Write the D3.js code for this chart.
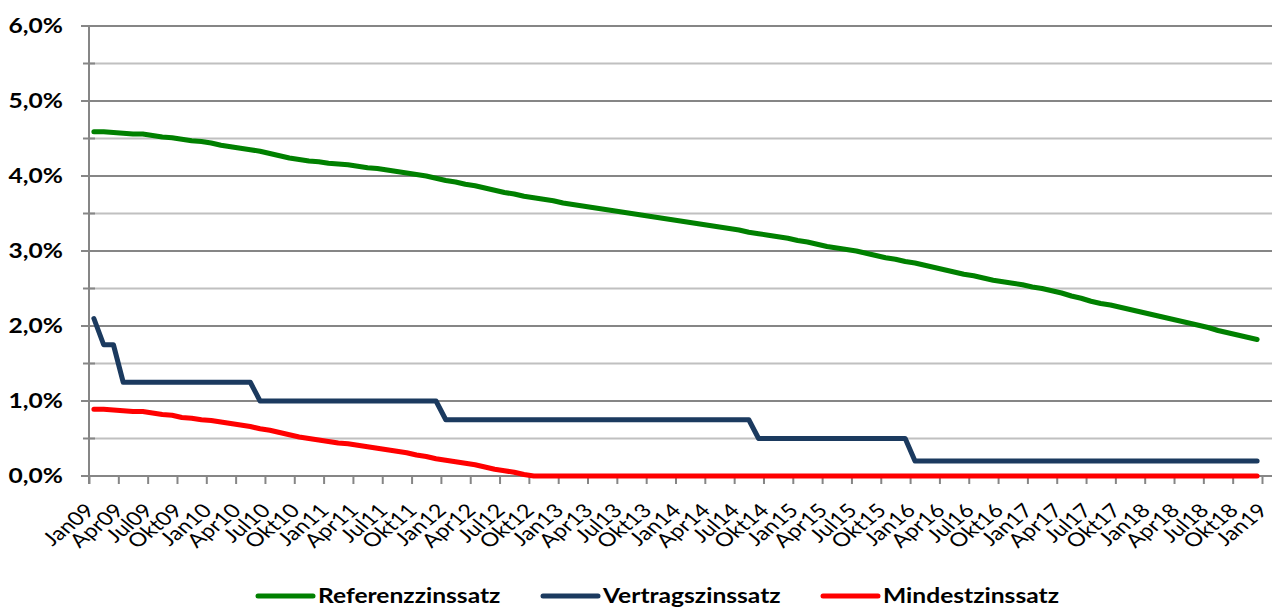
<!DOCTYPE html>
<html><head><meta charset="utf-8">
<script src="https://cdn.jsdelivr.net/npm/d3@7"></script>
<style>body{margin:0;background:#fff}svg{display:block}</style>
</head><body><svg id="c" width="1272" height="607"></svg>
<script>
const tickLabels = ["Jan09","Apr09","Jul09","Okt09","Jan10","Apr10","Jul10","Okt10","Jan11","Apr11","Jul11","Okt11",
  "Jan12","Apr12","Jul12","Okt12","Jan13","Apr13","Jul13","Okt13","Jan14","Apr14","Jul14","Okt14",
  "Jan15","Apr15","Jul15","Okt15","Jan16","Apr16","Jul16","Okt16","Jan17","Apr17","Jul17","Okt17",
  "Jan18","Apr18","Jul18","Okt18","Jan19"];
const monthNames = ["Jan","Feb","Mär","Apr","Mai","Jun","Jul","Aug","Sep","Okt","Nov","Dez"];
const years = ["09","10","11","12","13","14","15","16","17","18"];
const categories = years.flatMap(yy => monthNames.map(m => m + yy));

const referenz = [
  4.59,4.59,4.58,4.57,4.56,4.56,4.54,4.52,4.51,4.49,4.47,4.46,
  4.44,4.41,4.39,4.37,4.35,4.33,4.30,4.27,4.24,4.22,4.20,4.19,
  4.17,4.16,4.15,4.13,4.11,4.10,4.08,4.06,4.04,4.02,4.00,3.97,
  3.94,3.92,3.89,3.87,3.84,3.81,3.78,3.76,3.73,3.71,3.69,3.67,
  3.64,3.62,3.60,3.58,3.56,3.54,3.52,3.50,3.48,3.46,3.44,3.42,
  3.40,3.38,3.36,3.34,3.32,3.30,3.28,3.25,3.23,3.21,3.19,3.17,
  3.14,3.12,3.09,3.06,3.04,3.02,3.00,2.97,2.94,2.91,2.89,2.86,
  2.84,2.81,2.78,2.75,2.72,2.69,2.67,2.64,2.61,2.59,2.57,2.55,
  2.52,2.50,2.47,2.44,2.40,2.37,2.33,2.30,2.28,2.25,2.22,2.19,
  2.16,2.13,2.10,2.07,2.04,2.01,1.98,1.94,1.91,1.88,1.85,1.82];
const vertrag = [
  2.10,1.75,1.75,1.25,1.25,1.25,1.25,1.25,1.25,1.25,1.25,1.25,
  1.25,1.25,1.25,1.25,1.25,1.00,1.00,1.00,1.00,1.00,1.00,1.00,
  1.00,1.00,1.00,1.00,1.00,1.00,1.00,1.00,1.00,1.00,1.00,1.00,
  0.75,0.75,0.75,0.75,0.75,0.75,0.75,0.75,0.75,0.75,0.75,0.75,
  0.75,0.75,0.75,0.75,0.75,0.75,0.75,0.75,0.75,0.75,0.75,0.75,
  0.75,0.75,0.75,0.75,0.75,0.75,0.75,0.75,0.50,0.50,0.50,0.50,
  0.50,0.50,0.50,0.50,0.50,0.50,0.50,0.50,0.50,0.50,0.50,0.50,
  0.20,0.20,0.20,0.20,0.20,0.20,0.20,0.20,0.20,0.20,0.20,0.20,
  0.20,0.20,0.20,0.20,0.20,0.20,0.20,0.20,0.20,0.20,0.20,0.20,
  0.20,0.20,0.20,0.20,0.20,0.20,0.20,0.20,0.20,0.20,0.20,0.20];
const mindest = [
  0.89,0.89,0.88,0.87,0.86,0.86,0.84,0.82,0.81,0.78,0.77,0.75,
  0.74,0.72,0.70,0.68,0.66,0.63,0.61,0.58,0.55,0.52,0.50,0.48,
  0.46,0.44,0.43,0.41,0.39,0.37,0.35,0.33,0.31,0.28,0.26,0.23,
  0.21,0.19,0.17,0.15,0.12,0.09,0.07,0.05,0.02,0.00,0.00,0.00,
  0,0,0,0,0,0,0,0,0,0,0,0,
  0,0,0,0,0,0,0,0,0,0,0,0,
  0,0,0,0,0,0,0,0,0,0,0,0,
  0,0,0,0,0,0,0,0,0,0,0,0,
  0,0,0,0,0,0,0,0,0,0,0,0,
  0,0,0,0,0,0,0,0,0,0,0,0];
const yMajor = [0,1,2,3,4,5,6];
const yMinor = [0.5,1.5,2.5,3.5,4.5,5.5];
const seriesNames = ["Referenzzinssatz","Vertragszinssatz","Mindestzinssatz"];
const seriesColors = ["#008000","#1B3A5F","#FF0000"];

const svg = d3.select("#c");
const W = 1272;
const plotL = 89, plotR = 1262, plotT = 26, plotB = 476;
const SX = 1.23;
const font = "Lato, 'Open Sans', sans-serif";

const x = d3.scaleBand().domain(categories).range([plotL, plotR]).paddingInner(0).paddingOuter(0);
const xt = d3.scalePoint().domain(tickLabels).range([plotL, plotR]);
const y = d3.scaleLinear().domain([0, 6]).range([plotB, plotT]);
const px = (d, i) => x(categories[i]) + x.bandwidth() / 2;

// minor gridlines
svg.append("g").selectAll("line").data(yMinor).join("line")
  .attr("x1", plotL).attr("x2", W).attr("y1", d => y(d)).attr("y2", d => y(d))
  .attr("stroke", "#C0C0C0").attr("stroke-width", 2);
svg.append("g").selectAll("line").data(yMinor).join("line")
  .attr("x1", plotL - 6).attr("x2", plotL + 6).attr("y1", d => y(d)).attr("y2", d => y(d))
  .attr("stroke", "#868686").attr("stroke-width", 2);
// major gridlines
svg.append("g").selectAll("line").data(yMajor).join("line")
  .attr("x1", plotL - 8).attr("x2", W).attr("y1", d => y(d)).attr("y2", d => y(d))
  .attr("stroke", "#868686").attr("stroke-width", 2.2);

// y axis line
svg.append("line").attr("x1", plotL).attr("x2", plotL).attr("y1", plotT).attr("y2", plotB + 8)
  .attr("stroke", "#868686").attr("stroke-width", 2);

// y labels
svg.append("g").selectAll("text").data(yMajor).join("text")
  .attr("transform", d => `translate(63,${y(d)}) scale(${SX},1)`)
  .attr("dy", "0.36em").attr("text-anchor", "end")
  .attr("font-family", font).attr("font-weight", "bold").attr("font-size", 20)
  .attr("fill", "#000")
  .text(d => d3.format(".1f")(d).replace(".", ",") + "%");

// x axis
const xAxis = svg.append("g").attr("transform", `translate(0,${plotB})`)
  .call(d3.axisBottom(xt).tickSize(8).tickFormat(""));
xAxis.select(".domain").remove();
xAxis.selectAll(".tick line").attr("stroke", "#868686").attr("stroke-width", 2);
svg.append("line").attr("x1", plotL).attr("x2", W).attr("y1", plotB).attr("y2", plotB)
  .attr("stroke", "#868686").attr("stroke-width", 2);

svg.append("g").selectAll("text").data(tickLabels).join("text")
  .attr("transform", d => `translate(${xt(d) + 1},${plotB + 31}) scale(${SX},1) rotate(-45)`)
  .attr("text-anchor", "end").attr("dy", "0.35em")
  .attr("font-family", font).attr("font-size", 19).attr("fill", "#000")
  .text(d => d);

// series
const line = d3.line().x((d, i) => px(d, i)).y(d => y(d));
[referenz, vertrag, mindest].forEach((s, k) => {
  svg.append("path").datum(s).attr("d", line)
    .attr("fill", "none").attr("stroke", seriesColors[k]).attr("stroke-width", 5)
    .attr("stroke-linejoin", "round").attr("stroke-linecap", "round");
});

// legend
const legX = [258, 543, 823];
const lg = svg.append("g");
seriesNames.forEach((n, k) => {
  lg.append("line").attr("x1", legX[k]).attr("x2", legX[k] + 55).attr("y1", 596).attr("y2", 596)
    .attr("stroke", seriesColors[k]).attr("stroke-width", 5).attr("stroke-linecap", "round");
  lg.append("text").attr("transform", `translate(${legX[k] + 60},602.5) scale(${SX},1)`)
    .attr("font-family", font).attr("font-weight", "bold").attr("font-size", 20)
    .attr("fill", "#000").text(n);
});
</script></body></html>
